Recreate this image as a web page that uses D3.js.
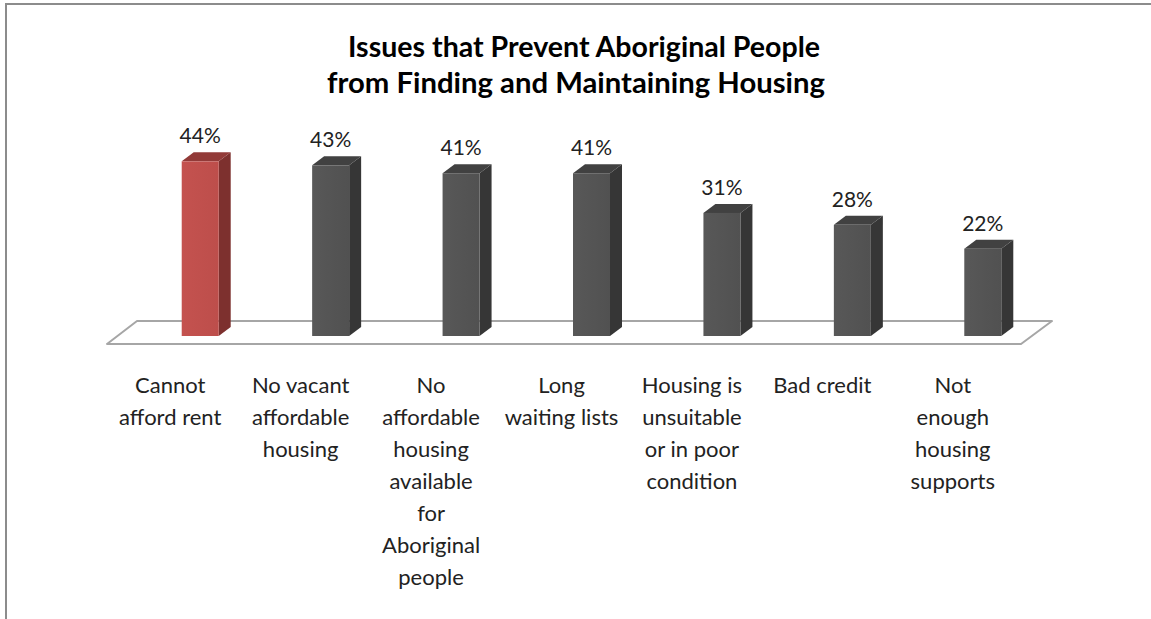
<!DOCTYPE html>
<html><head><meta charset="utf-8">
<script src="https://cdn.jsdelivr.net/npm/d3@7"></script>
<style>body{margin:0;background:#fff}svg{display:block}</style>
</head><body>
<svg id="c" width="1151" height="619"></svg>
<script>
const categories = [
  ["Cannot","afford rent"],
  ["No vacant","affordable","housing"],
  ["No","affordable","housing","available","for","Aboriginal","people"],
  ["Long","waiting lists"],
  ["Housing is","unsuitable","or in poor","condition"],
  ["Bad credit"],
  ["Not","enough","housing","supports"]
];
const values = [44, 43, 41, 41, 31, 28, 22];
const highlight = [true, false, false, false, false, false, false];
const titleLines = ["Issues that Prevent Aboriginal People", "from Finding and Maintaining Housing"];

const svg = d3.select("#c");
const font = "Lato, 'Open Sans', sans-serif";

// frame
svg.append("rect").attr("x",6).attr("y",4).attr("width",1200).attr("height",700)
  .attr("fill","#fff").attr("stroke","#8c8c8c").attr("stroke-width",2);

const ids = categories.map((c,i)=>i);
const x = d3.scalePoint().domain(ids).range([135,1048]).padding(0.5);
const y = d3.scaleLinear().domain([0,50]).range([336, 336-50*3.97]);
const bw = 37, dx = 12, dy = 9;

// floor
const fy0 = 344, fy1 = 321;
svg.append("path")
  .attr("d", `M107,${fy0} L1021,${fy0} L1052,${fy1} L137,${fy1} Z`)
  .attr("fill","#fff").attr("stroke","#a6a6a6").attr("stroke-width",2).attr("stroke-linejoin","round");

// gradients
const defs = svg.append("defs");
function grad(id, c1, c2){
  const g = defs.append("linearGradient").attr("id",id).attr("x1",0).attr("x2",1).attr("y1",0).attr("y2",0);
  g.append("stop").attr("offset","0%").attr("stop-color",c1);
  g.append("stop").attr("offset","100%").attr("stop-color",c2);
}
grad("gRed","#c4524f","#bd4e4b");
grad("gGray","#585858","#515151");

const bars = svg.append("g").selectAll("g").data(values).join("g");
bars.each(function(v,i){
  const g = d3.select(this);
  const cx = x(i), x0 = cx - bw/2, x1 = cx + bw/2;
  const top = y(v), bot = y(0);
  const red = highlight[i];
  const cFront = red ? "url(#gRed)" : "url(#gGray)";
  const cSide = red ? "#7d302e" : "#363636";
  const cTop = red ? "#923a38" : "#414141";
  g.append("path").attr("d",`M${x1},${top} L${x1+dx},${top-dy} L${x1+dx},${bot-dy} L${x1},${bot} Z`).attr("fill",cSide);
  g.append("path").attr("d",`M${x0},${top} L${x0+dx},${top-dy} L${x1+dx},${top-dy} L${x1},${top} Z`).attr("fill",cTop);
  g.append("rect").attr("x",x0).attr("y",top).attr("width",bw).attr("height",bot-top).attr("fill",cFront);
  g.append("text").attr("x",cx).attr("y",top-dy-9).attr("text-anchor","middle")
    .attr("font-family",font).attr("font-size",21).attr("fill","#222").text(v+"%");
});

// category labels
categories.forEach((lines,i)=>{
  const t = svg.append("text").attr("text-anchor","middle").attr("font-family",font)
    .attr("font-size",22).attr("fill","#222");
  lines.forEach((l,j)=>{
    t.append("tspan").attr("x", x(i)-30).attr("y", 393 + j*32).text(l);
  });
});

// title
const titleWidths = [472, 498];
titleLines.forEach((l,j)=>{
  svg.append("text").attr("x", j===0?584:576).attr("y", 57 + j*36).attr("text-anchor","middle")
    .attr("font-family",font).attr("font-weight","bold").attr("font-size",28).attr("fill","#000")
    .attr("textLength", titleWidths[j]).attr("lengthAdjust","spacingAndGlyphs").text(l);
});
</script>
</body></html>
